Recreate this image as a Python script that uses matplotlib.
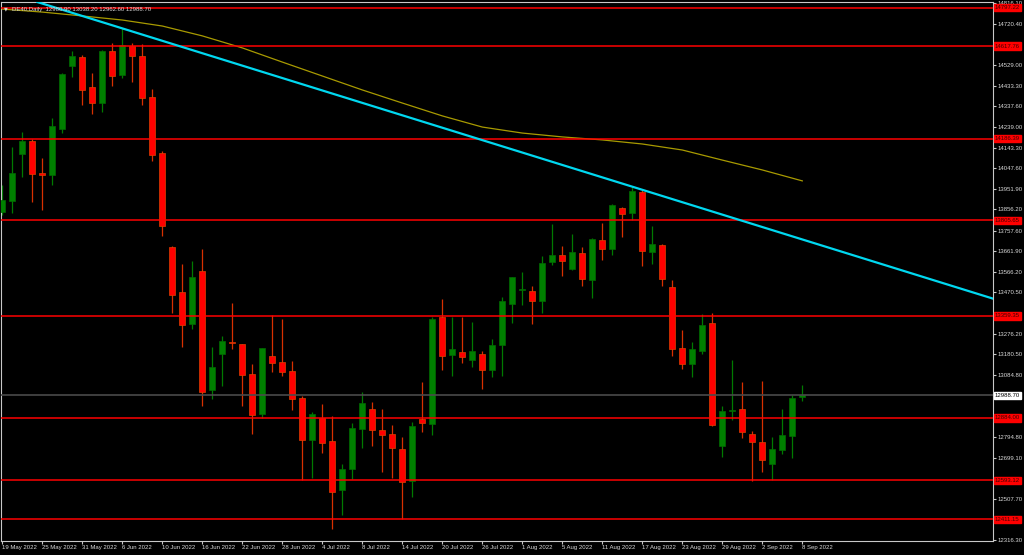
import numpy as np
import matplotlib.pyplot as plt

# DE40 daily candles, 19 May 2022 .. 8 Sep 2022 (81 trading days)
opens = [13845, 13897, 14114, 14176, 14026, 14015, 14231, 14525, 14567, 14427,
         14351, 14594, 14481, 14619, 14573, 14378, 14118, 13679, 13470, 13322,
         13570, 13013, 13183, 13236, 13227, 13087, 12902, 13174, 13143, 13101,
         12978, 12782, 12884, 12776, 12547, 12644, 12832, 12926, 12828, 12808,
         12739, 12591, 12879, 12856, 13356, 13179, 13193, 13153, 13182, 13109,
         13222, 13415, 13482, 13474, 13429, 13609, 13642, 13580, 13651, 13528,
         13712, 13672, 13863, 13838, 13936, 13656, 13689, 13494, 13210, 13134,
         13197, 13327, 12754, 12916, 12924, 12810, 12770, 12671, 12733, 12801,
         12980.9]
highs = [13970, 14148, 14216, 14184, 14094, 14281, 14493, 14596, 14576, 14491,
         14598, 14633, 14700, 14630, 14626, 14417, 14128, 13685, 13602, 13617,
         13672, 13213, 13267, 13420, 13229, 13135, 13212, 13364, 13345, 13151,
         12986, 12910, 12948, 12893, 12669, 12860, 13003, 12958, 12926, 12851,
         12795, 12866, 13053, 13356, 13438, 13356, 13356, 13330, 13197, 13251,
         13446, 13541, 13563, 13499, 13637, 13787, 13685, 13741, 13681, 13721,
         13793, 13879, 13869, 13962, 13947, 13779, 13695, 13527, 13294, 13239,
         13368, 13373, 12941, 13154, 13050, 12824, 13056, 12794, 12927, 12991,
         13038.2]
lows = [13830, 13838, 14009, 13892, 13853, 13970, 14211, 14475, 14343, 14299,
        14312, 14431, 14467, 14449, 14343, 14082, 13734, 13375, 13216, 13297,
        12941, 12972, 13033, 13205, 12941, 12809, 12882, 13099, 13079, 12921,
        12595, 12603, 12719, 12366, 12433, 12598, 12745, 12753, 12633, 12603,
        12413, 12514, 12817, 12804, 13107, 13081, 13139, 13123, 13019, 13076,
        13081, 13328, 13412, 13322, 13375, 13598, 13547, 13575, 13500, 13443,
        13620, 13645, 13726, 13807, 13594, 13600, 13500, 13173, 13112, 13073,
        13182, 12848, 12700, 12874, 12792, 12591, 12630, 12595, 12717, 12699,
        12962.6]
closes = [13900, 14024, 14176, 14023, 14015, 14245, 14486, 14573, 14414, 14351,
          14596, 14478, 14621, 14573, 14377, 14111, 13780, 13458, 13319, 13540,
          13006, 13121, 13243, 13233, 13086, 12899, 13210, 13141, 13099, 12974,
          12780, 12901, 12768, 12537, 12646, 12837, 12954, 12826, 12803, 12745,
          12584, 12848, 12859, 13345, 13174, 13204, 13167, 13195, 13109, 13224,
          13428, 13540, 13485, 13428, 13608, 13644, 13617, 13658, 13532, 13717,
          13673, 13877, 13836, 13942, 13664, 13695, 13530, 13204, 13135, 13204,
          13317, 12852, 12915, 12919, 12820, 12770, 12686, 12738, 12803, 12977,
          12988.7]

# moving average read every 4 bars
ma_idx = list(range(0, 81, 4))
ma_vals = [14790, 14776, 14758, 14739, 14711, 14665, 14609, 14543, 14478, 14413,
           14352, 14292, 14240, 14212, 14194, 14180, 14161, 14133, 14086, 14040,
           13989]

# support / resistance levels
levels = [14797.22, 14617.76, 14186.39, 13805.65, 13359.35, 12884.00, 12593.12, 12411.15]
bid = 12988.70

# trendline anchors (bar index, price)
trend_a = (12, 14700)
trend_b = (63, 13962)

ytick_vals = [14816.10, 14720.40, 14529.00, 14433.30, 14337.60, 14239.00, 14143.30,
              14047.60, 13951.90, 13856.20, 13757.60, 13661.90, 13566.20, 13470.50,
              13276.20, 13180.50, 13084.80, 12794.80, 12699.10, 12507.70, 12316.30]

xtick_labels = ['19 May 2022', '25 May 2022', '31 May 2022', '6 Jun 2022', '10 Jun 2022',
                '16 Jun 2022', '22 Jun 2022', '28 Jun 2022', '4 Jul 2022', '8 Jul 2022',
                '14 Jul 2022', '20 Jul 2022', '26 Jul 2022', '1 Aug 2022', '5 Aug 2022',
                '11 Aug 2022', '17 Aug 2022', '23 Aug 2022', '29 Aug 2022', '2 Sep 2022',
                '8 Sep 2022']

FONT = 'Liberation Sans'
FS = 4.3
AXC = '#c8c8c8'

fig = plt.figure(figsize=(10.24, 5.55), dpi=100, facecolor='black')
ax = fig.add_axes([1/1024, 14/555, 992/1024, 539/555], facecolor='black')

o = np.array(opens); h = np.array(highs); l = np.array(lows); c = np.array(closes)
x = np.arange(len(o))
up = c >= o

# wicks
ax.vlines(x[up], l[up], h[up], colors='#007a00', lw=0.9, zorder=2)
ax.vlines(x[~up], l[~up], h[~up], colors='#d83000', lw=0.9, zorder=2)

# bodies
body = np.maximum(np.abs(c - o), 5)
bottom = np.minimum(o, c)
ax.bar(x[up], body[up], bottom=bottom[up], width=0.62, color='#008000',
       edgecolor='#006a00', linewidth=0.5, zorder=3)
ax.bar(x[~up], body[~up], bottom=bottom[~up], width=0.62, color='#ff0000',
       edgecolor='#e04000', linewidth=0.5, zorder=3)

# MA and trendline
ax.plot(ma_idx, ma_vals, color='#a89a00', lw=0.9, zorder=4)
ax.axline(trend_a, trend_b, color='#00d8f0', lw=1.6, zorder=5)

# horizontal levels with price labels
ytr = ax.get_yaxis_transform()
for lv in levels:
    ax.axhline(lv, color='#ff0000', lw=1.1, zorder=4)
    ax.text(1.002, lv, f'{lv:.2f}', transform=ytr, va='center', ha='left',
            fontsize=FS, family=FONT, color='#400000', zorder=10,
            bbox=dict(boxstyle='square,pad=0.2', fc='#ff0000', ec='#ff0000'))
ax.axhline(bid, color='#4a4a4a', lw=1.2, zorder=4)
ax.text(1.002, bid, f'{bid:.2f}', transform=ytr, va='center', ha='left',
        fontsize=FS, family=FONT, color='black', zorder=10,
        bbox=dict(boxstyle='square,pad=0.2', fc='white', ec='white'))

ax.set_xlim(-0.13, 99.07)
ax.set_ylim(12310.1, 14823.0)

ax.yaxis.tick_right()
ax.set_yticks(ytick_vals)
ax.set_yticklabels([f'{v:.2f}' for v in ytick_vals])
ax.set_xticks(ma_idx)
ax.set_xticklabels(xtick_labels, ha='left')
ax.tick_params(axis='both', colors=AXC, labelcolor='#d8d8d8', labelsize=FS,
               length=2.2, width=0.8)
ax.tick_params(axis='y', pad=1)
ax.tick_params(axis='x', pad=1)
for lab in ax.get_xticklabels() + ax.get_yticklabels():
    lab.set_family(FONT)
for sp in ax.spines.values():
    sp.set_color(AXC)
    sp.set_linewidth(0.8)

# chart caption
fig.text(4/1024, 1 - 9/555, '\u25bc', color='#d8d8d8', fontsize=3.5,
         va='center', ha='left', family='DejaVu Sans')
fig.text(12/1024, 1 - 9/555, 'DE40,Daily  12980.90 13038.20 12962.60 12988.70',
         color='#d8d8d8', fontsize=FS, va='center', ha='left', family=FONT)

fig.savefig('out.png', dpi=100, facecolor='black')
